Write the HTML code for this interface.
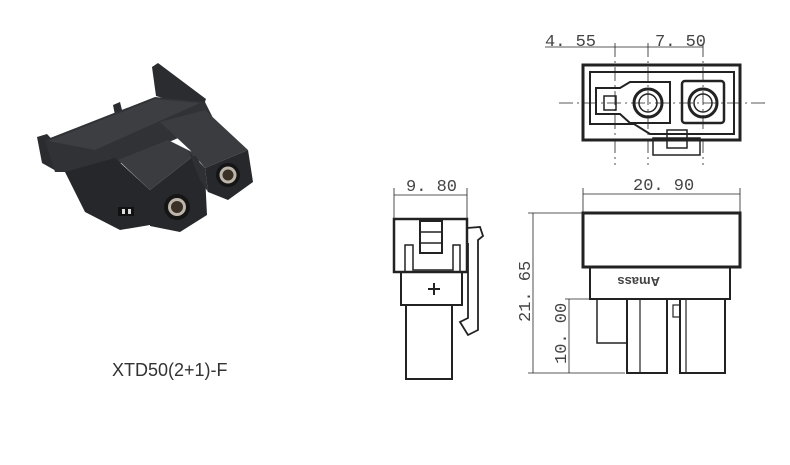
<!DOCTYPE html>
<html><head><style>
html,body{margin:0;padding:0;background:#fff;}
svg{display:block;}
</style></head><body>
<svg width="790" height="465" viewBox="0 0 790 465" xmlns="http://www.w3.org/2000/svg">
<rect width="790" height="465" fill="#fff"/>
<!-- photo -->
<g stroke="none">
<polygon points="37,137 47,134 62,150 58,172 42,163" fill="#2a2c2f"/>
<polygon points="152,67 158,63 206,99 202,110 156,96" fill="#2a2c2f"/>
<polygon points="113,105 120,102 124,118 116,120" fill="#2a2c2f"/>
<polygon points="45,140 155,97 205,102 215,122 100,172 55,172" fill="#303236"/>
<polygon points="48,141 155,99 200,103 95,150" fill="#3c3e42"/>
<polygon points="65,172 115,158 150,190 150,225 120,230 85,212" fill="#25272a"/>
<polygon points="118,160 168,140 196,154 150,190" fill="#3a3c40"/>
<polygon points="150,190 196,154 205,175 207,215 180,232 150,226" fill="#26282b"/>
<polygon points="160,122 205,110 248,150 205,168 190,150" fill="#3a3c40"/>
<polygon points="205,168 248,150 253,182 228,200 208,192" fill="#26282b"/>
<polygon points="188,150 205,168 208,192 200,180" fill="#2e3033"/>
<circle cx="177" cy="207" r="13" fill="#151515"/><circle cx="177" cy="207" r="9" fill="#bdb6aa"/><circle cx="177" cy="207" r="6" fill="#3a3025"/>
<circle cx="228" cy="175" r="12" fill="#151515"/><circle cx="228" cy="175" r="8.5" fill="#bdb6aa"/><circle cx="228" cy="175" r="5.5" fill="#3a3025"/>
<rect x="118" y="207" width="16" height="9" fill="#111"/><rect x="122" y="209" width="3" height="5" fill="#ddd"/><rect x="128" y="209" width="3" height="5" fill="#ddd"/>
</g>
<text x="112" y="376" style="font-family:'Liberation Sans',sans-serif" font-size="18" fill="#333">XTD50(2+1)-F</text>

<g stroke="#222" fill="none">
<!-- top view -->
<line x1="559" y1="103" x2="766" y2="103" stroke-width="0.8" stroke-dasharray="14,4,2,4"/>
<line x1="545" y1="47" x2="703" y2="47" stroke-width="0.8"/>
<line x1="615" y1="43" x2="615" y2="165" stroke-width="0.8" stroke-dasharray="14,4,2,4"/>
<line x1="648" y1="43" x2="648" y2="165" stroke-width="0.8" stroke-dasharray="14,4,2,4"/>
<line x1="703" y1="43" x2="703" y2="165" stroke-width="0.8" stroke-dasharray="14,4,2,4"/>
<rect x="583" y="65" width="157" height="75" stroke-width="3"/>
<path d="M590 72 H734 V134 H650 L634 124 H590 Z" stroke-width="2"/>
<path d="M596 88 H620 L630 82 H670 V123 H630 L620 114 H596 Z" stroke-width="2"/>
<rect x="604" y="96" width="12" height="14" stroke-width="1.5"/>
<rect x="682" y="81" width="42" height="42" rx="3" stroke-width="2.5"/>
<circle cx="648" cy="103" r="14" stroke-width="3"/><circle cx="648" cy="103" r="9" stroke-width="1.5"/>
<circle cx="703" cy="103" r="14" stroke-width="3"/><circle cx="703" cy="103" r="9" stroke-width="1.5"/>
<rect x="653" y="138" width="47" height="17" stroke-width="1.5"/>
<rect x="667" y="130" width="20" height="18" stroke-width="1.5"/>
<!-- side view -->
<line x1="394" y1="195" x2="467" y2="195" stroke-width="0.8"/>
<line x1="394" y1="188" x2="394" y2="219" stroke-width="0.8"/>
<line x1="467" y1="188" x2="467" y2="219" stroke-width="0.8"/>
<rect x="394" y="219" width="73" height="53" stroke-width="2.5"/>
<rect x="401" y="272" width="61" height="33" stroke-width="2"/>
<rect x="406" y="305" width="46" height="74" stroke-width="2"/>
<path d="M405 272 V245 H413 V270 H453 V245 H460 V272" stroke-width="1.5"/>
<rect x="420" y="221" width="22" height="32" stroke-width="2"/>
<line x1="420" y1="232" x2="442" y2="232" stroke-width="1.5"/><line x1="420" y1="243" x2="442" y2="243" stroke-width="1.5"/>
<path d="M428 289 H440 M434 283 V295" stroke-width="2"/>
<path d="M467 228 L480 227 L483 236 L478 240 V330 L468 335 L460 322 L468 318 V243" stroke-width="1.8"/>
<!-- front view -->
<line x1="583" y1="194" x2="740" y2="194" stroke-width="0.8"/>
<line x1="583" y1="188" x2="583" y2="213" stroke-width="0.8"/>
<line x1="740" y1="188" x2="740" y2="213" stroke-width="0.8"/>
<line x1="533" y1="213" x2="533" y2="373" stroke-width="0.8"/>
<line x1="528" y1="213" x2="583" y2="213" stroke-width="0.8"/>
<line x1="528" y1="373" x2="625" y2="373" stroke-width="0.8"/>
<line x1="569" y1="299" x2="569" y2="373" stroke-width="0.8"/>
<line x1="565" y1="299" x2="595" y2="299" stroke-width="0.8"/>
<rect x="583" y="213" width="157" height="54" stroke-width="3"/>
<rect x="590" y="267" width="140" height="32" stroke-width="2"/>
<rect x="597" y="299" width="30" height="44" stroke-width="1.5"/>
<rect x="627" y="299" width="40" height="74" stroke-width="2"/>
<line x1="640" y1="299" x2="640" y2="373" stroke-width="1.2"/>
<rect x="680" y="299" width="45" height="74" stroke-width="2"/>
<line x1="686" y1="299" x2="686" y2="373" stroke-width="1.2"/>
<rect x="673" y="305" width="7" height="12" stroke-width="1.2"/>
</g>
<g fill="#444" style="font-family:'Liberation Mono',monospace">
<text x="545" y="46" font-size="17">4. 55</text>
<text x="655" y="46" font-size="17">7. 50</text>
<text x="406" y="191" font-size="17">9. 80</text>
<text x="633" y="190" font-size="17">20. 90</text>
<text transform="translate(530,322) rotate(-90)" font-size="17">21. 65</text>
<text transform="translate(566,364) rotate(-90)" font-size="17">10. 00</text>
<text transform="translate(660,277) rotate(180)" font-size="13" font-weight="bold" style="font-family:'Liberation Sans',sans-serif">Amass</text>
</g>
</svg>
</body></html>
